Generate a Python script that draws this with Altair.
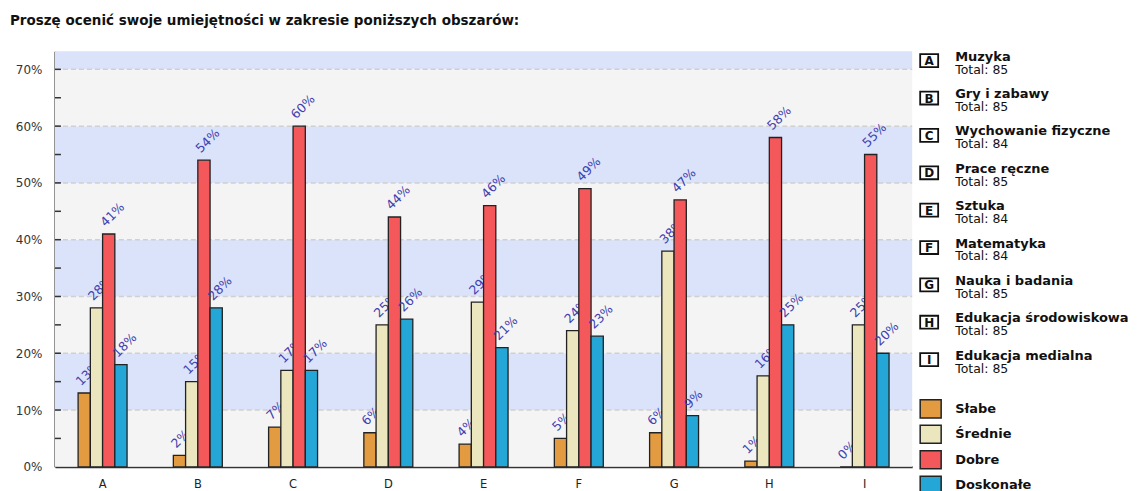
import altair as alt
import pandas as pd

# ---- data ----
categories = ["A", "B", "C", "D", "E", "F", "G", "H", "I"]
names = ["Muzyka", "Gry i zabawy", "Wychowanie fizyczne", "Prace ręczne", "Sztuka",
         "Matematyka", "Nauka i badania", "Edukacja środowiskowa", "Edukacja medialna"]
totals = [85, 85, 84, 85, 84, 84, 85, 85, 85]
series = ["Słabe", "Średnie", "Dobre", "Doskonałe"]
slabe = [13, 2, 7, 6, 4, 5, 6, 1, 0]
srednie = [28, 15, 17, 25, 29, 24, 38, 16, 25]
dobre = [41, 54, 60, 44, 46, 49, 47, 58, 55]
doskonale = [18, 28, 17, 26, 21, 23, 9, 25, 20]
y_ticks = [0, 10, 20, 30, 40, 50, 60, 70]
y_max = 73.2
title_text = "Proszę ocenić swoje umiejętności w zakresie poniższych obszarów:"

colors = ["#E29B41", "#ECE6BE", "#F5585A", "#24A6D7"]
band_colors = ["#F4F4F4", "#DAE3FA"]

W, H = 858, 416
LW = 216
P_IN, P_OUT = 0.486, 0.243
half_gap = P_IN * (W / len(categories)) / 2

values = [slabe, srednie, dobre, doskonale]
rows = []
for s, vals in zip(series, values):
    for c, v in zip(categories, vals):
        rows.append({"cat": c, "series": s, "value": v, "label": f"{v}%"})
df = pd.DataFrame(rows)

edges = y_ticks + [y_max]
bands = pd.DataFrame({
    "y0": edges[:-1], "y1": edges[1:],
    "fill": [band_colors[i % 2] for i in range(len(edges) - 1)],
})
grid = pd.DataFrame({"v": y_ticks[1:]})
minor = pd.DataFrame({"v": list(range(5, 71, 5))})
cats_df = pd.DataFrame({"cat": categories})

xscale = alt.Scale(domain=categories, paddingInner=P_IN, paddingOuter=P_OUT)
yscale = alt.Scale(domain=[0, y_max], nice=False, zero=True)
offscale = alt.Scale(domain=series, paddingInner=0, paddingOuter=0)

FONT = "DejaVu Sans"

x_axis = alt.Axis(title=None, labelAngle=0, ticks=False, domain=True, domainColor="#333333",
                  domainWidth=2, labelFont=FONT, labelFontSize=11.5, labelColor="#222222",
                  labelPadding=12, grid=False)
y_axis = alt.Axis(title=None, values=y_ticks, labelExpr="datum.value + '%'", ticks=False,
                  domain=True, domainColor="#333333", domainWidth=2, grid=False,
                  labelFont=FONT, labelFontSize=12, labelColor="#333333", labelPadding=13,
                  minExtent=45)

x_enc = alt.X("cat:N", scale=xscale, axis=x_axis, sort=categories)
y_enc = alt.Y("value:Q", scale=yscale, axis=y_axis)

band_layer = alt.Chart(bands).mark_rect().encode(
    x=alt.value(0), x2=alt.value(W),
    y=alt.Y("y0:Q", scale=yscale, axis=y_axis), y2="y1:Q",
    color=alt.Color("fill:N", scale=None),
)
grid_layer = alt.Chart(grid).mark_rule(color="#D0D0D0", strokeDash=[5, 3], strokeWidth=1.5).encode(
    x=alt.value(0), x2=alt.value(W),
    y=alt.Y("v:Q", scale=yscale, axis=y_axis),
)
minor_layer = alt.Chart(minor).mark_rule(color="#333333", strokeWidth=1.5).encode(
    x=alt.value(0), x2=alt.value(6),
    y=alt.Y("v:Q", scale=yscale, axis=y_axis),
)
xtick_layer = alt.Chart(cats_df).mark_rule(color="#333333", strokeWidth=1.5).encode(
    x=alt.X("cat:N", scale=xscale, axis=x_axis, sort=categories, bandPosition=1),
    xOffset=alt.value(half_gap),
    y=alt.value(H - 7), y2=alt.value(H),
)

layers = [band_layer, grid_layer, minor_layer, xtick_layer]
for s in series:
    base = alt.Chart(df).transform_filter(alt.datum.series == s)
    bar = base.mark_bar(stroke="#222222", strokeWidth=1.3).encode(
        x=x_enc,
        xOffset=alt.XOffset("series:N", scale=offscale),
        y=y_enc,
        color=alt.Color("series:N", scale=alt.Scale(domain=series, range=colors), legend=None),
    )
    txt = base.mark_text(angle=315, align="left", baseline="alphabetic", dx=2.5, dy=-6.9,
                         font=FONT, fontSize=12.5, color="#4040B0").encode(
        x=x_enc,
        xOffset=alt.XOffset("series:N", scale=offscale),
        y=y_enc,
        text="label:N",
    )
    layers += [bar, txt]

main = alt.layer(*layers).properties(width=W, height=H)

# ---- legend panel ----
leg_df = pd.DataFrame({
    "letter": categories, "name": names,
    "total": [f"Total: {t}" for t in totals],
    "idx": list(range(len(categories))),
})
ser_df = pd.DataFrame({"series": series, "cidx": list(range(len(series)))})

cat_y = alt.Y("idx:Q", scale=alt.Scale(domain=[-9.5 / 37.4, (H - 9.5) / 37.4], reverse=True, nice=False, zero=False), axis=None)
ser_y = alt.Y("cidx:Q", scale=alt.Scale(domain=[-358 / 25.5, (H - 358) / 25.5], reverse=True, nice=False, zero=False), axis=None)

box_shape = "M-1,-0.72L1,-0.72L1,0.72L-1,0.72Z"
sq_shape = "M-1,-0.86L1,-0.86L1,0.86L-1,0.86Z"

box = alt.Chart(leg_df).mark_point(shape=box_shape, size=324, fill="white", fillOpacity=1,
                                    stroke="#111111", strokeWidth=1.8, opacity=1).encode(
    x=alt.value(16), y=cat_y)
letter = alt.Chart(leg_df).mark_text(font=FONT, fontSize=12, fontWeight="bold", color="#111111",
                                      align="center", baseline="middle", dy=0.5).encode(
    x=alt.value(16), y=cat_y, text="letter:N")
name = alt.Chart(leg_df).mark_text(font=FONT, fontSize=13, fontWeight="bold", color="#111111",
                                    align="left", baseline="alphabetic", dy=0).encode(
    x=alt.value(42), y=cat_y, text="name:N")
total = alt.Chart(leg_df).mark_text(font=FONT, fontSize=12.5, color="#111111",
                                     align="left", baseline="alphabetic", dy=13).encode(
    x=alt.value(42), y=cat_y, text="total:N")
sq = alt.Chart(ser_df).mark_point(shape=sq_shape, size=441, filled=True, stroke="#222222",
                                   strokeWidth=1.5, opacity=1).encode(
    x=alt.value(17.5), y=ser_y,
    color=alt.Color("series:N", scale=alt.Scale(domain=series, range=colors), legend=None))
sq_lab = alt.Chart(ser_df).mark_text(font=FONT, fontSize=13, fontWeight="bold", color="#111111",
                                      align="left", baseline="middle").encode(
    x=alt.value(42), y=ser_y, text="series:N")

legend = alt.layer(box, letter, name, total, sq, sq_lab).resolve_scale(y="independent").properties(
    width=LW, height=H)

chart = alt.hconcat(main, legend, spacing=0).properties(
    title=alt.TitleParams(title_text, anchor="start", font=FONT, fontSize=13.5, fontWeight="bold",
                          color="#111111", offset=23),
    padding={"left": 2, "top": 5, "right": 0, "bottom": 0},
    background="white",
).configure_view(strokeWidth=0, stroke="transparent")

chart.save("out.html", embed_options={"renderer": "svg", "actions": False})
